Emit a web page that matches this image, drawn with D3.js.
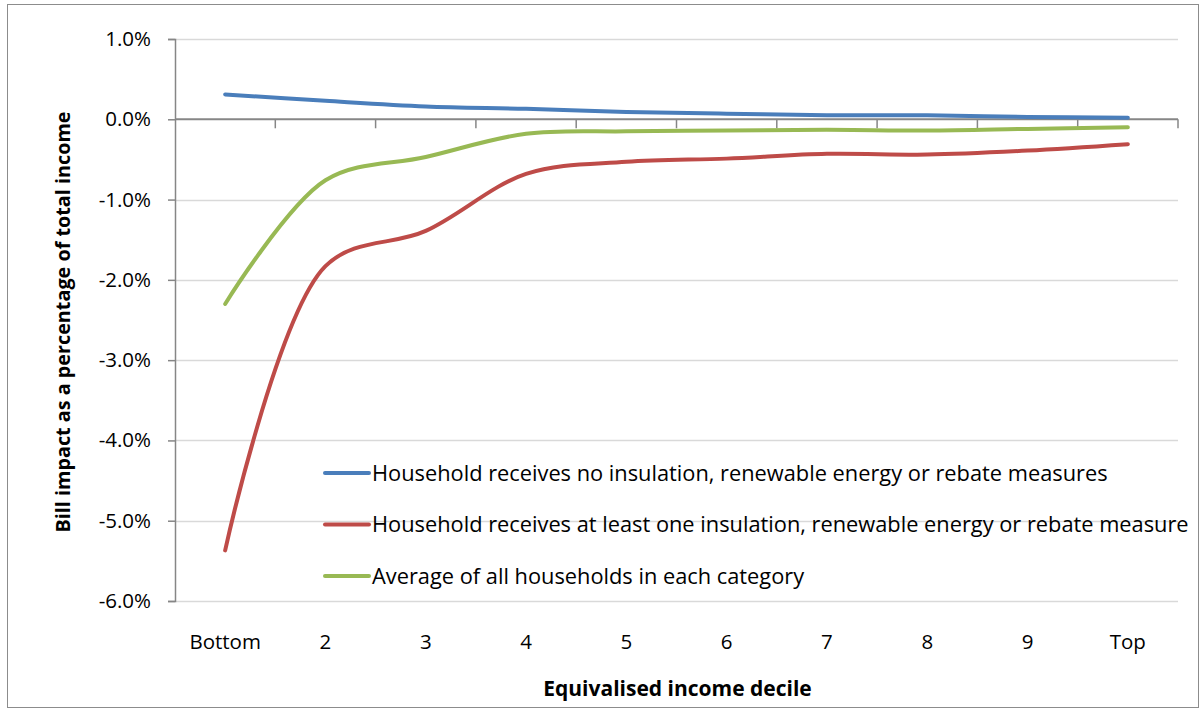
<!DOCTYPE html>
<html>
<head>
<meta charset="utf-8">
<script src="https://cdn.jsdelivr.net/npm/d3@7"></script>
<style>
  html, body { margin: 0; padding: 0; background: #fff; }
  svg { display: block; }
  text { font-family: "Open Sans", "Liberation Sans", sans-serif; fill: #000; }
</style>
</head>
<body>
<svg id="chart" width="1204" height="712"></svg>
<script>
// Income deciles along the x axis
const deciles = ["Bottom", "2", "3", "4", "5", "6", "7", "8", "9", "Top"];

// Bill impact as a fraction of total income, per decile
const noMeasures = [0.0031, 0.0023, 0.0016, 0.0013, 0.0009, 0.0007, 0.0005, 0.0005, 0.0003, 0.0002];
const withMeasures = [-0.0537, -0.0183, -0.0139, -0.0068, -0.0053, -0.0049, -0.0043, -0.0044, -0.0039, -0.0031];
const allHouseholds = [-0.0230, -0.0076, -0.0047, -0.0018, -0.0015, -0.0014, -0.0013, -0.0014, -0.0012, -0.0010];

const seriesNames = [
  "Household receives no insulation, renewable energy or rebate measures",
  "Household receives at least one insulation, renewable energy or rebate measure",
  "Average of all households in each category"
];
const seriesColors = ["#4a7ebb", "#be4b48", "#98b954"];
const yTicks = [0.01, 0, -0.01, -0.02, -0.03, -0.04, -0.05, -0.06];

const series = [noMeasures, withMeasures, allHouseholds].map((vals, i) => ({
  name: seriesNames[i],
  color: seriesColors[i],
  values: vals.map((v, j) => ({ cat: deciles[j], v }))
}));

const svg = d3.select("#chart");
const margin = { left: 175, right: 26, top: 39, bottom: 111 };
const W = 1204, H = 712;
const plotW = W - margin.left - margin.right;
const plotH = H - margin.top - margin.bottom;

// Outer chart frame
svg.append("rect")
  .attr("x", 7.5).attr("y", 4.5)
  .attr("width", 1191).attr("height", 703)
  .attr("fill", "#fff").attr("stroke", "#8c8c8c").attr("stroke-width", 1);

const x = d3.scaleBand().domain(deciles).range([0, plotW]).padding(0);
const y = d3.scaleLinear().domain([-0.06, 0.01]).range([plotH, 0]);

const g = svg.append("g").attr("transform", `translate(${margin.left},${margin.top})`);

// Horizontal gridlines
g.append("g")
  .selectAll("line")
  .data(yTicks.filter(t => t !== 0))
  .join("line")
  .attr("x1", 0).attr("x2", plotW)
  .attr("y1", d => Math.round(y(d)) + 0.5).attr("y2", d => Math.round(y(d)) + 0.5)
  .attr("stroke", "#d9d9d9").attr("stroke-width", 1.5);

// Y axis, percent labels with a plain hyphen for negatives
const pct = v => d3.format(".1f")(v * 100).replace("\u2212", "-") + "%";
const yAxis = g.append("g")
  .call(d3.axisLeft(y).tickValues(yTicks).tickFormat(pct).tickSize(7).tickPadding(17));
yAxis.select(".domain").attr("stroke", "#868686").attr("stroke-width", 1.5);
yAxis.selectAll(".tick line").attr("stroke", "#868686").attr("stroke-width", 1.5);
yAxis.selectAll(".tick text")
  .style("font-family", "'Open Sans', 'Liberation Sans', sans-serif")
  .style("font-size", "20.5px").attr("fill", "#000");

// X axis sits on the zero line; ticks mark category boundaries
const xAxisG = g.append("g").attr("transform", `translate(0,${y(0)})`);
xAxisG.append("line")
  .attr("x1", 0).attr("x2", plotW).attr("y1", 0).attr("y2", 0)
  .attr("stroke", "#868686").attr("stroke-width", 2);
xAxisG.selectAll("line.tick")
  .data(deciles.map((d, i) => i + 1))
  .join("line")
  .attr("class", "tick")
  .attr("x1", i => i * x.bandwidth()).attr("x2", i => i * x.bandwidth())
  .attr("y1", 0).attr("y2", 9)
  .attr("stroke", "#868686").attr("stroke-width", 1.5);

// Category labels below the plot
g.append("g")
  .selectAll("text")
  .data(deciles)
  .join("text")
  .attr("x", d => x(d) + x.bandwidth() / 2)
  .attr("y", plotH + 48)
  .attr("text-anchor", "middle")
  .style("font-size", "20.5px")
  .text(d => d);

// Smoothed lines
const line = d3.line()
  .x(d => x(d.cat) + x.bandwidth() / 2)
  .y(d => y(d.v))
  .curve(d3.curveCatmullRom.alpha(0.5));

g.append("g")
  .selectAll("path")
  .data(series)
  .join("path")
  .attr("d", d => line(d.values))
  .attr("fill", "none")
  .attr("stroke", d => d.color)
  .attr("stroke-width", 4)
  .attr("stroke-linecap", "round")
  .attr("stroke-linejoin", "round");

// Legend
const legend = svg.append("g").attr("transform", "translate(325,473)");
const item = legend.selectAll("g")
  .data(series)
  .join("g")
  .attr("transform", (d, i) => `translate(0,${i * 51.5})`);
item.append("line")
  .attr("x1", 0).attr("x2", 44).attr("y1", 0).attr("y2", 0)
  .attr("stroke", d => d.color).attr("stroke-width", 4).attr("stroke-linecap", "round");
item.append("text")
  .attr("x", 47).attr("y", 7.5)
  .style("font-size", "21.8px")
  .text(d => d.name);

// Axis titles
svg.append("text")
  .attr("x", margin.left + plotW / 2 + 1)
  .attr("y", 696)
  .attr("text-anchor", "middle")
  .style("font-size", "21px").style("font-weight", "bold")
  .text("Equivalised income decile");

svg.append("text")
  .attr("transform", `translate(70,${margin.top + 283}) rotate(-90)`)
  .attr("text-anchor", "middle")
  .style("font-size", "19.8px").style("font-weight", "bold")
  .text("Bill impact as a percentage of total income");
</script>
</body>
</html>
